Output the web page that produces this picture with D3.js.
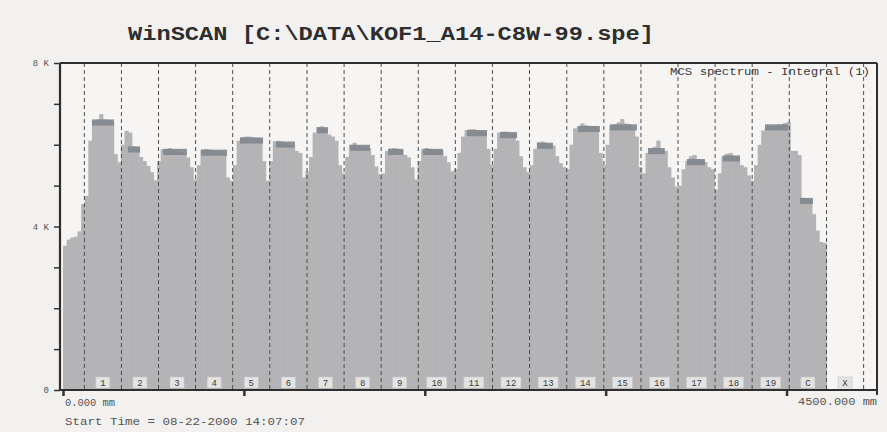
<!DOCTYPE html>
<html>
<head>
<meta charset="utf-8">
<script src="https://cdn.jsdelivr.net/npm/d3@7/dist/d3.min.js"></script>
<style>
  html, body { margin: 0; padding: 0; background: #f3f1ef; }
  svg { display: block; }
</style>
</head>
<body>
<div id="chart"></div>
<script>
// MCS spectrum, 20 mm per channel
const binMm = 20;
const counts = [
  3.53, 3.68, 3.73, 3.75, 3.88, 4.55, 4.75, 6.1, 6.58, 6.62,
  6.75, 6.62, 6.6, 6.55, 5.77, 5.57, 6.0, 6.34, 6.3, 5.96,
  5.92, 5.7, 5.6, 5.48, 5.33, 5.13, 5.6, 5.89, 5.9, 5.92,
  5.88, 5.86, 5.82, 5.8, 5.69, 5.45, 5.15, 5.5, 5.88, 5.9,
  5.88, 5.86, 5.85, 5.84, 5.8, 5.2, 5.12, 5.5, 6.1, 6.18,
  6.2, 6.2, 6.18, 6.15, 6.12, 5.6, 5.12, 5.6, 6.09, 6.1,
  6.08, 6.05, 6.0, 5.98, 5.85, 5.8, 5.2, 5.35, 5.7, 6.3,
  6.43, 6.45, 6.4, 6.25, 6.2, 6.1, 5.5, 5.3, 5.7, 6.0,
  6.05, 5.98, 5.96, 5.95, 5.92, 5.75, 5.47, 5.28, 5.3, 5.85,
  5.91, 5.92, 5.9, 5.88, 5.75, 5.69, 5.45, 5.15, 5.6, 5.9,
  5.92, 5.9, 5.88, 5.87, 5.85, 5.72, 5.57, 5.35, 5.4, 5.8,
  6.2, 6.36, 6.38, 6.38, 6.36, 6.35, 6.33, 5.9, 5.5, 5.9,
  6.3, 6.32, 6.32, 6.3, 6.27, 6.1, 5.72, 5.45, 5.33, 5.5,
  5.9, 6.06, 6.08, 6.05, 6.02, 5.98, 5.72, 5.55, 5.45, 5.4,
  6.0, 6.4, 6.45, 6.52, 6.48, 6.46, 6.45, 6.43, 5.8, 5.5,
  6.0, 6.48, 6.5, 6.55, 6.63, 6.52, 6.5, 6.4, 6.2, 5.45,
  5.3, 5.8, 5.9, 5.95, 6.1, 5.9, 5.85, 5.45, 5.2, 4.98,
  5.0, 5.4, 5.6, 5.72, 5.75, 5.65, 5.62, 5.58, 5.45, 5.4,
  4.9, 5.3, 5.72, 5.78, 5.8, 5.72, 5.7, 5.5, 5.45, 5.25,
  5.12, 5.5, 6.0, 6.35, 6.43, 6.45, 6.45, 6.48, 6.5, 6.53,
  6.55, 5.85, 5.85, 5.75, 4.7, 4.68, 4.65, 4.3, 3.9, 3.62,
  3.6
];

// dark plateau tops: [from mm, to mm, level]
const caps = [
  [160, 282, 6.62], [359, 426, 5.96], [553, 685, 5.9], [763, 907, 5.88],
  [978, 1106, 6.18], [1177, 1282, 6.08], [1404, 1465, 6.43], [1587, 1697, 6.0],
  [1797, 1880, 5.9], [1990, 2101, 5.9], [2233, 2344, 6.36], [2416, 2510, 6.31],
  [2620, 2709, 6.05], [2847, 2968, 6.46], [3024, 3173, 6.5], [3234, 3327, 5.92],
  [3449, 3549, 5.65], [3648, 3742, 5.74], [3881, 4008, 6.5], [4074, 4146, 4.7]
];

// region markers (mm) and their labels
const dividers = [118, 323, 528, 733, 938, 1143, 1349, 1554, 1759, 1964, 2169,
  2374, 2579, 2785, 2990, 3195, 3400, 3605, 3810, 4015, 4221, 4426];
const regionLabels = ["1", "2", "3", "4", "5", "6", "7", "8", "9", "10",
  "11", "12", "13", "14", "15", "16", "17", "18", "19", "C", "X"];

const yTicks = [0, 1, 2, 3, 4, 5, 6, 7, 8];
const yTickLabels = { 0: "0", 4: "4 K", 8: "8 K" };
const xTicks = [0, 1000, 2000, 3000, 4000];

const width = 887, height = 432;
const mono = "'Liberation Mono', 'DejaVu Sans Mono', monospace";

const svg = d3.select("#chart").append("svg")
  .attr("width", width).attr("height", height);

svg.append("rect").attr("width", width).attr("height", height).attr("fill", "#f3f1ef");

const x = d3.scaleLinear().domain([0, 4500]).range([63, 877]);
const y = d3.scaleLinear().domain([0, 8]).range([390, 63]);

svg.append("rect")
  .attr("x", x(0) - 3).attr("y", y(8))
  .attr("width", x(4500) - x(0) + 3).attr("height", y(0) - y(8))
  .attr("fill", "#f6f5f3");

// title
svg.append("text")
  .attr("x", 128).attr("y", 40)
  .attr("textLength", 526).attr("lengthAdjust", "spacingAndGlyphs")
  .style("font-family", mono).style("font-weight", "700").style("font-size", "21px")
  .attr("fill", "#2e2e2e")
  .text("WinSCAN [C:\\DATA\\KOF1_A14-C8W-99.spe]");

// spectrum bars
const bw = x(binMm) - x(0);
svg.append("g").selectAll("rect").data(counts).join("rect")
  .attr("x", (d, i) => x(i * binMm))
  .attr("y", d => y(d))
  .attr("width", bw + 0.6)
  .attr("height", d => y(0) - y(d))
  .attr("fill", "#b4b4b6");

// dark caps
svg.append("g").selectAll("rect").data(caps).join("rect")
  .attr("x", d => x(d[0]))
  .attr("y", d => y(d[2]))
  .attr("width", d => x(d[1]) - x(d[0]))
  .attr("height", d => y(d[2] - 0.15) - y(d[2]))
  .attr("fill", "#80868c")
  .attr("opacity", 0.9);

// region dividers
svg.append("g").selectAll("line").data(dividers).join("line")
  .attr("x1", d => x(d)).attr("x2", d => x(d))
  .attr("y1", y(8)).attr("y2", y(0))
  .attr("stroke", "#4d4d4d").attr("stroke-width", 1)
  .attr("stroke-dasharray", "4,3");

// region label boxes
const labelG = svg.append("g").selectAll("g").data(regionLabels).join("g")
  .attr("transform", (d, i) => `translate(${(x(dividers[i]) + x(dividers[i + 1])) / 2},383)`);
labelG.append("rect")
  .attr("x", d => -(4 + d.length * 3))
  .attr("y", -6)
  .attr("width", d => 8 + d.length * 6)
  .attr("height", 11)
  .attr("fill", "#e4e4e4")
  .attr("stroke", "#c8c8c8").attr("stroke-width", 0.6);
labelG.append("text")
  .attr("text-anchor", "middle").attr("y", 3)
  .style("font-family", mono).style("font-size", "9px")
  .attr("fill", "#3a3a3a")
  .text(d => d);

// legend text
svg.append("text")
  .attr("x", 670).attr("y", 75)
  .attr("textLength", 200).attr("lengthAdjust", "spacingAndGlyphs")
  .style("font-family", mono).style("font-size", "10px")
  .attr("fill", "#3a3a3a")
  .text("MCS spectrum - Integral (1)");

// y axis
const yAxis = svg.append("g").attr("transform", "translate(60,0)")
  .call(d3.axisLeft(y).tickValues(yTicks).tickSize(6).tickPadding(5)
    .tickFormat(d => yTickLabels[d] || ""));
yAxis.select(".domain").remove();
yAxis.selectAll(".tick line").attr("stroke", "#333").attr("stroke-width", 1.5);
yAxis.selectAll(".tick text").style("font-family", mono).style("font-size", "9px").attr("fill", "#555");

// x axis ticks
const xAxis = svg.append("g").attr("transform", "translate(0,390)")
  .call(d3.axisBottom(x).tickValues(xTicks).tickSize(6).tickFormat(""));
xAxis.select(".domain").remove();
xAxis.selectAll(".tick line").attr("stroke", "#333").attr("stroke-width", 2.5);

// frame
const frame = svg.append("g").attr("stroke", "#2f2f2f").attr("fill", "none");
frame.append("line").attr("x1", 60).attr("x2", 877).attr("y1", 63).attr("y2", 63).attr("stroke-width", 2);
frame.append("line").attr("x1", 877).attr("x2", 877).attr("y1", 63).attr("y2", 395).attr("stroke-width", 2);
frame.append("line").attr("x1", 60).attr("x2", 60).attr("y1", 63).attr("y2", 391).attr("stroke-width", 2.2);
frame.append("line").attr("x1", 59).attr("x2", 877).attr("y1", 390).attr("y2", 390).attr("stroke-width", 2.2);

// footer texts
svg.append("text")
  .attr("x", 65).attr("y", 406)
  .attr("textLength", 50).attr("lengthAdjust", "spacingAndGlyphs")
  .style("font-family", mono).style("font-size", "10px").attr("fill", "#555")
  .text("0.000 mm");
svg.append("text")
  .attr("x", 798).attr("y", 405)
  .attr("textLength", 79).attr("lengthAdjust", "spacingAndGlyphs")
  .style("font-family", mono).style("font-size", "10px").attr("fill", "#555")
  .text("4500.000 mm");
svg.append("text")
  .attr("x", 65).attr("y", 425)
  .attr("textLength", 240).attr("lengthAdjust", "spacingAndGlyphs")
  .style("font-family", mono).style("font-size", "10px").attr("fill", "#555")
  .text("Start Time = 08-22-2000 14:07:07");
</script>
</body>
</html>
